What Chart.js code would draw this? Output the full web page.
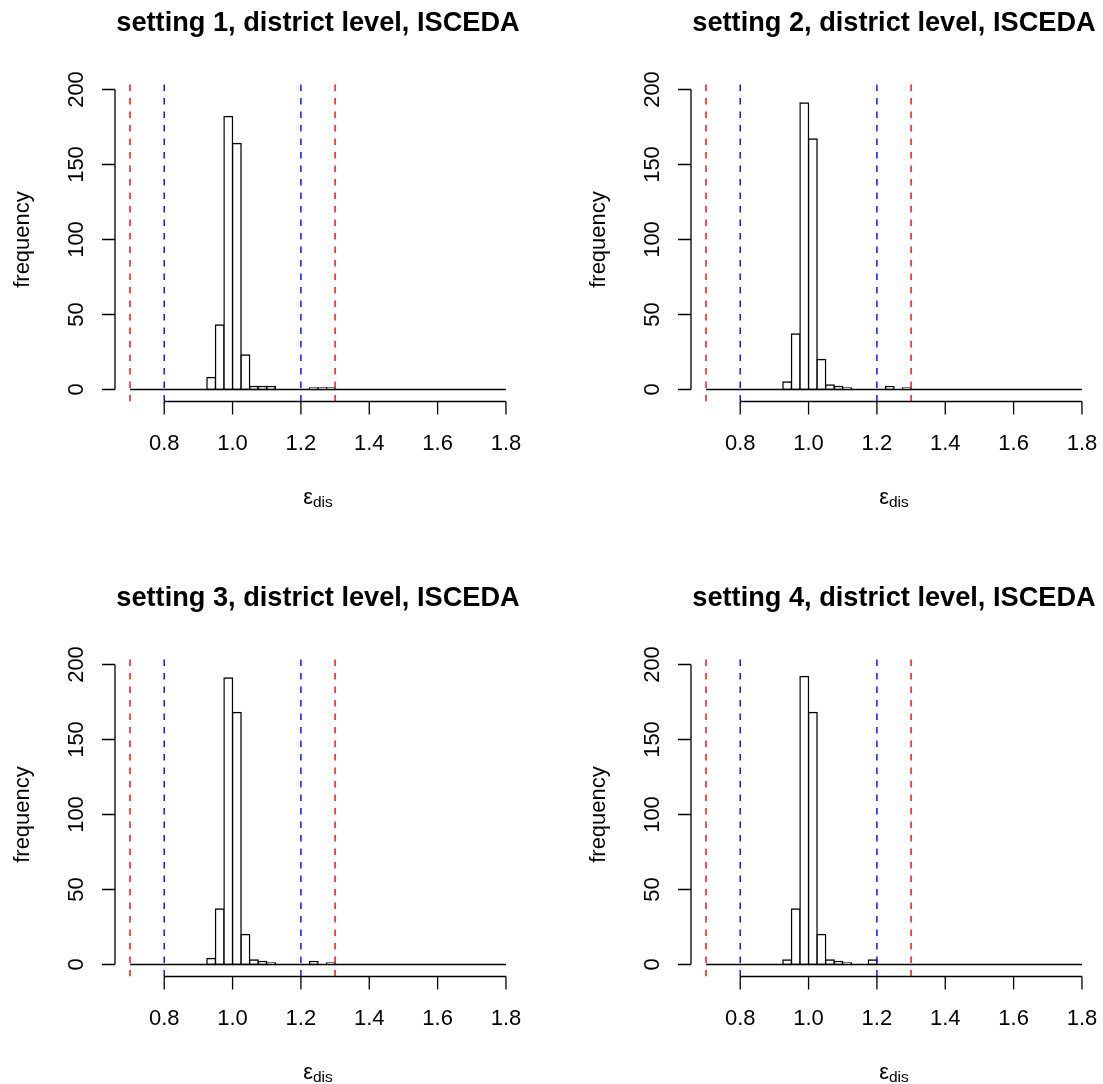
<!DOCTYPE html>
<html>
<head>
<meta charset="utf-8">
<script src="https://cdn.jsdelivr.net/npm/chart.js@4.4.1/dist/chart.umd.min.js"></script>
<style>
  html, body { margin: 0; padding: 0; background: #fff; }
  body { width: 1103px; height: 1084px; overflow: hidden; position: relative; }
  canvas { position: absolute; }
</style>
</head>
<body>
<canvas id="c1" width="575" height="575" style="left:0px;top:0px"></canvas>
<canvas id="c2" width="575" height="575" style="left:576px;top:0px"></canvas>
<canvas id="c3" width="575" height="575" style="left:0px;top:575px"></canvas>
<canvas id="c4" width="575" height="575" style="left:576px;top:575px"></canvas>
<script>
// histogram bins: 0.7 .. 1.8, width 0.025 (44 bins)
const binStart = 0.7;
const binWidth = 0.025;
const binCount = 44;

const titles = [
  'setting 1, district level, ISCEDA',
  'setting 2, district level, ISCEDA',
  'setting 3, district level, ISCEDA',
  'setting 4, district level, ISCEDA'
];

// frequencies per bin
const counts1 = [0,0,0,0,0,0,0,0,0,8,43,182,164,23,2,2,2,0,0,0,0,1,1,1,0,0,0,0,0,0,0,0,0,0,0,0,0,0,0,0,0,0,0,0];
const counts2 = [0,0,0,0,0,0,0,0,0,5,37,191,167,20,3,2,1,0,0,0,0,2,0,1,0,0,0,0,0,0,0,0,0,0,0,0,0,0,0,0,0,0,0,0];
const counts3 = [0,0,0,0,0,0,0,0,0,4,37,191,168,20,3,2,1,0,0,0,0,2,0,1,0,0,0,0,0,0,0,0,0,0,0,0,0,0,0,0,0,0,0,0];
const counts4 = [0,0,0,0,0,0,0,0,0,3,37,192,168,20,3,2,1,0,0,3,0,0,0,0,0,0,0,0,0,0,0,0,0,0,0,0,0,0,0,0,0,0,0,0];

const xTicks = [0.8, 1.0, 1.2, 1.4, 1.6, 1.8];
const yTicks = [0, 50, 100, 150, 200];
const redLines = [0.7, 1.3];
const blueLines = [0.8, 1.2];

const FONT = '"Liberation Sans", Arial, Helvetica, sans-serif';

// R-style axes, titles and labels drawn against the chart scales
const rAxes = {
  id: 'rAxes',
  afterDraw(chart, args, opts) {
    const ctx = chart.ctx;
    const xs = chart.scales.x;
    const ys = chart.scales.y;
    const area = chart.chartArea;
    const tick = 13;
    ctx.save();
    ctx.strokeStyle = '#000';
    ctx.fillStyle = '#000';
    ctx.lineWidth = 1.3;

    // x axis
    const yb = area.bottom;
    ctx.beginPath();
    ctx.moveTo(xs.getPixelForValue(xTicks[0]), yb);
    ctx.lineTo(xs.getPixelForValue(xTicks[xTicks.length - 1]), yb);
    xTicks.forEach(function (t) {
      const px = xs.getPixelForValue(t);
      ctx.moveTo(px, yb);
      ctx.lineTo(px, yb + tick);
    });
    ctx.stroke();
    ctx.font = '22px ' + FONT;
    ctx.textAlign = 'center';
    ctx.textBaseline = 'alphabetic';
    xTicks.forEach(function (t) {
      ctx.fillText(t.toFixed(1), xs.getPixelForValue(t), yb + 48.5);
    });

    // y axis
    const xl = area.left;
    ctx.beginPath();
    ctx.moveTo(xl, ys.getPixelForValue(yTicks[0]));
    ctx.lineTo(xl, ys.getPixelForValue(yTicks[yTicks.length - 1]));
    yTicks.forEach(function (t) {
      const py = ys.getPixelForValue(t);
      ctx.moveTo(xl, py);
      ctx.lineTo(xl - tick, py);
    });
    ctx.stroke();
    yTicks.forEach(function (t) {
      ctx.save();
      ctx.translate(xl - 32.5, ys.getPixelForValue(t));
      ctx.rotate(-Math.PI / 2);
      ctx.fillText(String(t), 0, 0);
      ctx.restore();
    });

    // y title
    const midY = (area.top + area.bottom) / 2;
    ctx.save();
    ctx.translate(xl - 86, midY);
    ctx.rotate(-Math.PI / 2);
    ctx.fillText('frequency', 0, 0);
    ctx.restore();

    // x title: epsilon with subscript
    const midX = (area.left + area.right) / 2;
    ctx.font = '22px ' + FONT;
    const wEps = ctx.measureText('\u03b5').width;
    ctx.font = '15.5px ' + FONT;
    const wSub = ctx.measureText('dis').width;
    const x0 = midX - (wEps + wSub) / 2;
    ctx.textAlign = 'left';
    ctx.font = '22px ' + FONT;
    ctx.fillText('\u03b5', x0, yb + 102);
    ctx.font = '15.5px ' + FONT;
    ctx.fillText('dis', x0 + wEps, yb + 105.5);

    // main title
    ctx.textAlign = 'center';
    ctx.font = 'bold 27.2px ' + FONT;
    ctx.fillText(opts.title, midX, area.top - 46.5);
    ctx.restore();
  }
};

function vline(x, color) {
  return {
    type: 'line',
    data: [{ x: x, y: -8 }, { x: x, y: 208 }],
    borderColor: color,
    borderWidth: 1.4,
    borderDash: [6.5, 7],
    pointRadius: 0,
    order: 1
  };
}

function makeHist(canvasId, counts, title) {
  const bars = counts.map(function (c, i) {
    return { x: binStart + binWidth * (i + 0.5), y: c };
  });

  const datasets = [
    {
      type: 'bar',
      data: bars,
      backgroundColor: '#ffffff',
      borderColor: '#000000',
      borderWidth: 1.4,
      borderSkipped: false,
      inflateAmount: 0.7,
      barPercentage: 1,
      categoryPercentage: 1,
      order: 3
    },
    {
      type: 'line',
      data: [{ x: binStart, y: 0 }, { x: binStart + binWidth * binCount, y: 0 }],
      borderColor: '#000000',
      borderWidth: 1.3,
      pointRadius: 0,
      order: 2
    }
  ];
  redLines.forEach(function (v) { datasets.push(vline(v, '#ff0000')); });
  blueLines.forEach(function (v) { datasets.push(vline(v, '#0000ff')); });

  return new Chart(document.getElementById(canvasId).getContext('2d'), {
    type: 'bar',
    data: { datasets: datasets },
    options: {
      responsive: false,
      animation: false,
      devicePixelRatio: 1,
      layout: { padding: { left: 115, right: 54, top: 77.5, bottom: 173.5 } },
      scales: {
        x: { type: 'linear', min: 0.656, max: 1.844, offset: false, display: false },
        y: { type: 'linear', min: -8, max: 208, display: false }
      },
      plugins: {
        legend: { display: false },
        tooltip: { enabled: false },
        rAxes: { title: title }
      }
    },
    plugins: [rAxes]
  });
}

makeHist('c1', counts1, titles[0]);
makeHist('c2', counts2, titles[1]);
makeHist('c3', counts3, titles[2]);
makeHist('c4', counts4, titles[3]);
</script>
</body>
</html>
